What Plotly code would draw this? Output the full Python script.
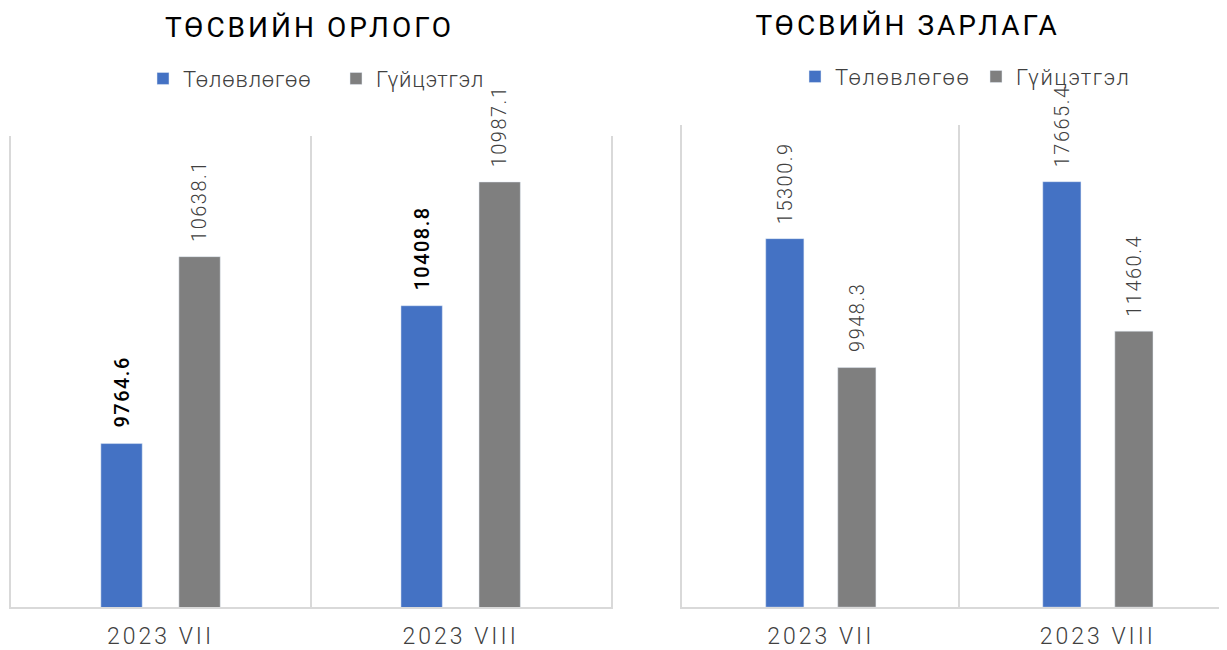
import plotly.graph_objects as go

# Data
categories = ["2023 VII", "2023 VIII"]
series_names = ["Төлөвлөгөө", "Гүйцэтгэл"]

income_plan = [9764.6, 10408.8]
income_actual = [10638.1, 10987.1]
expense_plan = [15300.9, 17665.4]
expense_actual = [9948.3, 11460.4]

income_title = "ТӨСВИЙН ОРЛОГО"
expense_title = "ТӨСВИЙН ЗАРЛАГА"

colors = ["#4472C4", "#7F7F7F"]
FONT = "Roboto"
BARGAP = 0.48
W, H = 1219, 642  # page body adds an 8px margin

fig = go.Figure()

# left panel (income)
fig.add_trace(go.Bar(x=categories, y=income_plan, name=series_names[0],
                     marker_color=colors[0], xaxis="x", yaxis="y", legend="legend"))
fig.add_trace(go.Bar(x=categories, y=income_actual, name=series_names[1],
                     marker_color=colors[1], xaxis="x", yaxis="y", legend="legend"))
# right panel (expense)
fig.add_trace(go.Bar(x=categories, y=expense_plan, name=series_names[0],
                     marker_color=colors[0], xaxis="x2", yaxis="y2", legend="legend2"))
fig.add_trace(go.Bar(x=categories, y=expense_actual, name=series_names[1],
                     marker_color=colors[1], xaxis="x2", yaxis="y2", legend="legend2"))

# value labels, rotated, just above each bar
off = (1 - BARGAP) / 4
bold_labels = {(0, 0, 0), (0, 0, 1)}  # (panel, series, category) darker in source
panels = [(income_plan, income_actual, "x", "y"), (expense_plan, expense_actual, "x2", "y2")]
for p, (plan, actual, xr, yr) in enumerate(panels):
    for s, vals in enumerate([plan, actual]):
        for c, v in enumerate(vals):
            bold = (p, s, c) in bold_labels
            fig.add_annotation(
                x=c + (-off if s == 0 else off), y=v, xref=xr, yref=yr,
                text=f"{v:.1f}", textangle=-90, showarrow=False,
                xanchor="center", yanchor="bottom", yshift=18,
                font=dict(family=FONT, size=20, color="#000000" if bold else "#404040",
                          weight=500 if bold else 300),
            )

for txt, xc, yc in [(income_title, 301, 20), (expense_title, 899, 18)]:
    fig.add_annotation(text=txt, x=xc / W, y=1 - yc / H, xref="paper", yref="paper",
                       showarrow=False, xanchor="center", yanchor="middle",
                       font=dict(family=FONT, size=28, color="#000000", weight=400))

axis_common = dict(type="category", tickson="boundaries", showgrid=True, gridcolor="#D9D9D9",
                   gridwidth=1.5, showline=True, linecolor="#D9D9D9", linewidth=2,
                   ticks="", ticklabelstandoff=7,
                   tickfont=dict(family=FONT, size=23, color="#404040", weight=300),
                   fixedrange=True)
yaxis_common = dict(showgrid=False, showticklabels=False, zeroline=False,
                    showline=True, linecolor="#D9D9D9", linewidth=1.5)

legend_common = dict(orientation="h", xanchor="left", yanchor="middle", bgcolor="rgba(0,0,0,0)",
                     entrywidthmode="pixels",
                     font=dict(family=FONT, size=22, color="#404040", weight=300))

fig.update_layout(
    width=W, height=H,
    margin=dict(l=0, r=0, t=0, b=0),
    paper_bgcolor="white", plot_bgcolor="white",
    barmode="group", bargap=BARGAP, bargroupgap=0.47,
    font=dict(family=FONT, color="#404040"),
    xaxis=dict(domain=[2.5 / W, 602.7 / W], range=[-0.5, 1.5], anchor="y", **axis_common),
    yaxis=dict(domain=[1 - 602 / H, 1 - 129 / H], range=[9000, 11200], anchor="x",
               mirror=True, **yaxis_common),
    xaxis2=dict(domain=[674.3 / W, 1], range=[-0.5, 1.466], anchor="y2", **axis_common),
    yaxis2=dict(domain=[1 - 602 / H, 1 - 118 / H], range=[0, 20000], anchor="x2",
                mirror=False, **yaxis_common),
    legend=dict(x=135 / W, y=1 - 71 / H, entrywidth=148, **legend_common),
    legend2=dict(x=787 / W, y=1 - 69 / H, entrywidth=136, **legend_common),
    showlegend=True,
)

# the source chart uses spaced-out lettering
spacing_js = """
document.getElementById('{plot_id}').querySelectorAll('text').forEach(function (t) {
    var fs = parseFloat(t.style.fontSize) || 0;
    var sp = '1.5px';
    if (t.classList.contains('legendtext')) sp = '0.8px';
    else if (fs >= 26 || t.closest('.xtick, .x2tick')) sp = '3px';
    t.style.letterSpacing = sp;
});
"""

fig.write_html("out.html", post_script=spacing_js)
